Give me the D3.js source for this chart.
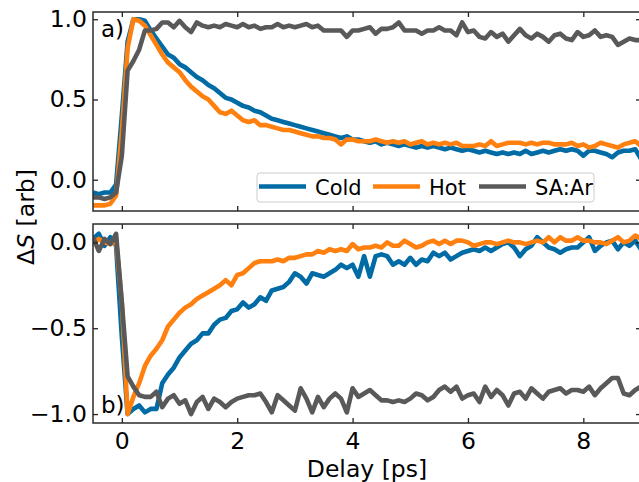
<!DOCTYPE html>
<html>
<head>
<meta charset="utf-8">
<script src="https://cdn.jsdelivr.net/npm/d3@7"></script>
<style>
body { margin: 0; background: #fff; }
svg text { font-family: "DejaVu Sans", sans-serif; fill: #000; }
</style>
</head>
<body>
<svg width="639" height="482"></svg>
<script>
// delay axis (ps)
var delays = [-0.5,-0.4,-0.3,-0.2,-0.1,0.0,0.1,0.2,0.3,0.4,
  0.5,0.6,0.7,0.8,0.9,1.0,1.1,1.2,1.3,1.4,
  1.5,1.6,1.7,1.8,1.9,2.0,2.1,2.2,2.3,2.4,
  2.5,2.6,2.7,2.8,2.9,3.0,3.1,3.2,3.3,3.4,
  3.5,3.6,3.7,3.8,3.9,4.0,4.1,4.2,4.3,4.4,
  4.5,4.6,4.7,4.8,4.9,5.0,5.1,5.2,5.3,5.4,
  5.5,5.6,5.7,5.8,5.9,6.0,6.1,6.2,6.3,6.4,
  6.5,6.6,6.7,6.8,6.9,7.0,7.1,7.2,7.3,7.4,
  7.5,7.6,7.7,7.8,7.9,8.0,8.1,8.2,8.3,8.4,
  8.5,8.6,8.7,8.8,8.9,9.0];

var seriesNames = ["Cold", "Hot", "SA:Ar"];
var colors = ["#006BA4", "#FF800E", "#595959"];

// panel a)
var topCold = [-0.08,-0.09,-0.08,-0.08,-0.03,0.40,0.86,1.00,1.00,0.99,
  0.93,0.88,0.83,0.78,0.76,0.72,0.70,0.67,0.64,0.62,
  0.59,0.57,0.54,0.51,0.50,0.48,0.46,0.45,0.43,0.42,
  0.40,0.38,0.37,0.36,0.35,0.34,0.33,0.32,0.31,0.30,
  0.29,0.28,0.27,0.26,0.27,0.25,0.25,0.24,0.23,0.24,
  0.22,0.23,0.22,0.21,0.22,0.21,0.20,0.21,0.20,0.21,
  0.20,0.19,0.20,0.19,0.18,0.19,0.18,0.17,0.18,0.17,
  0.16,0.17,0.16,0.17,0.16,0.18,0.16,0.17,0.18,0.17,
  0.18,0.19,0.18,0.19,0.18,0.15,0.18,0.18,0.17,0.16,
  0.14,0.17,0.18,0.18,0.19,0.13];
var topHot = [-0.16,-0.16,-0.16,-0.15,-0.10,0.30,0.82,1.00,0.99,0.96,
  0.90,0.84,0.78,0.73,0.70,0.67,0.62,0.58,0.55,0.52,
  0.50,0.46,0.42,0.41,0.43,0.40,0.37,0.36,0.37,0.34,
  0.34,0.33,0.32,0.31,0.31,0.30,0.29,0.28,0.27,0.27,
  0.26,0.26,0.25,0.22,0.25,0.25,0.24,0.24,0.24,0.25,
  0.24,0.23,0.24,0.23,0.24,0.22,0.23,0.24,0.22,0.23,
  0.22,0.23,0.22,0.23,0.21,0.21,0.21,0.22,0.21,0.24,
  0.21,0.22,0.23,0.23,0.23,0.22,0.23,0.22,0.23,0.23,
  0.22,0.22,0.22,0.23,0.21,0.22,0.20,0.21,0.23,0.22,
  0.21,0.20,0.22,0.23,0.24,0.21];
var topAr = [-0.11,-0.11,-0.12,-0.11,-0.08,0.15,0.68,0.74,0.81,0.93,
  0.93,0.94,0.98,0.98,0.95,0.99,0.95,0.92,0.98,0.96,
  0.95,0.96,0.95,0.97,0.96,0.95,0.97,0.95,0.96,0.94,
  0.95,0.95,0.97,0.95,0.96,0.95,0.96,0.97,0.95,0.96,
  0.93,0.93,0.93,0.93,0.89,0.93,0.93,0.94,0.95,0.91,
  0.94,0.94,0.95,0.98,0.93,0.93,0.93,0.91,0.93,0.93,
  0.95,0.93,0.93,0.90,0.98,0.92,0.93,0.89,0.88,0.92,
  0.89,0.91,0.86,0.90,0.94,0.90,0.88,0.91,0.89,0.86,
  0.90,0.91,0.88,0.87,0.92,0.89,0.90,0.93,0.89,0.90,
  0.89,0.84,0.86,0.88,0.87,0.87];

// panel b)
var botCold = [0.02,0.05,-0.02,0.03,-0.02,-0.55,-1.00,-0.97,-0.95,-0.99,
  -0.97,-0.97,-0.82,-0.77,-0.73,-0.67,-0.63,-0.59,-0.57,-0.53,
  -0.53,-0.48,-0.45,-0.44,-0.40,-0.39,-0.35,-0.38,-0.36,-0.32,
  -0.34,-0.28,-0.27,-0.26,-0.23,-0.18,-0.20,-0.24,-0.18,-0.19,
  -0.20,-0.18,-0.16,-0.13,-0.15,-0.13,-0.20,-0.08,-0.20,-0.08,
  -0.07,-0.08,-0.13,-0.11,-0.13,-0.09,-0.13,-0.10,-0.11,-0.06,
  -0.08,-0.06,-0.10,-0.08,-0.06,-0.05,-0.04,-0.05,-0.03,-0.05,
  -0.03,-0.01,0.00,-0.03,-0.08,-0.04,-0.02,0.03,0.00,-0.03,
  -0.04,-0.06,-0.04,-0.03,-0.03,0.00,0.03,-0.05,-0.02,0.00,
  0.01,-0.04,0.00,-0.02,0.01,-0.04];
var botHot = [-0.01,0.02,0.00,-0.01,0.01,-0.35,-1.00,-0.90,-0.82,-0.72,
  -0.66,-0.62,-0.57,-0.49,-0.45,-0.41,-0.38,-0.36,-0.33,-0.31,
  -0.29,-0.27,-0.25,-0.22,-0.25,-0.19,-0.18,-0.15,-0.12,-0.11,
  -0.11,-0.11,-0.10,-0.11,-0.09,-0.09,-0.08,-0.07,-0.07,-0.05,
  -0.06,-0.04,-0.05,-0.04,-0.05,-0.01,-0.04,-0.03,-0.03,-0.02,
  -0.03,0.00,-0.02,-0.02,0.01,-0.01,-0.03,-0.02,0.00,0.01,
  -0.01,0.01,-0.01,0.01,0.01,0.00,-0.02,-0.01,0.00,0.00,
  -0.01,0.00,0.01,0.00,0.00,-0.01,0.00,0.01,0.00,0.03,
  0.00,0.03,0.01,0.01,0.03,0.01,0.01,0.00,0.00,-0.01,
  0.01,0.03,0.00,0.01,0.04,0.02];
var botAr = [0.03,-0.05,0.02,-0.01,0.05,-0.35,-0.78,-0.84,-0.89,-0.90,
  -0.90,-0.87,-0.96,-0.91,-0.89,-0.94,-0.92,-1.00,-0.93,-0.90,
  -0.97,-0.91,-0.93,-0.96,-0.93,-0.91,-0.90,-0.89,-0.89,-0.88,
  -0.93,-0.99,-0.89,-0.92,-0.95,-0.98,-0.85,-0.91,-0.99,-0.90,
  -0.96,-0.91,-0.88,-0.91,-0.99,-0.85,-0.90,-0.88,-0.86,-0.89,
  -0.92,-0.92,-0.93,-0.92,-0.93,-0.91,-0.88,-0.89,-0.92,-0.90,
  -0.86,-0.84,-0.87,-0.84,-0.91,-0.89,-0.88,-0.93,-0.84,-0.90,
  -0.86,-0.89,-0.95,-0.88,-0.87,-0.91,-0.85,-0.88,-0.91,-0.87,
  -0.86,-0.85,-0.88,-0.86,-0.86,-0.87,-0.84,-0.89,-0.85,-0.82,
  -0.79,-0.79,-0.88,-0.89,-0.86,-0.84];

var xTicks = [0, 2, 4, 6, 8];
var topTicks = [0.0, 0.5, 1.0];
var botTicks = [-1.0, -0.5, 0.0];

var svg = d3.select("svg");
var x = d3.scaleLinear().domain([-0.5, 9]).range([93, 641]);

var panels = [
  {id: "a", top: 12, bottom: 211, domain: [-0.195, 1.045], ticks: topTicks,
   data: [topCold, topHot, topAr], label: "a)", labelY: 37, showX: false},
  {id: "b", top: 224, bottom: 423, domain: [-1.052, 0.107], ticks: botTicks,
   data: [botCold, botHot, botAr], label: "b)", labelY: 413, showX: true}
];

panels.forEach(function(p) {
  var y = d3.scaleLinear().domain(p.domain).range([p.bottom, p.top]);

  svg.append("clipPath").attr("id", "clip-" + p.id)
    .append("rect")
    .attr("x", x.range()[0]).attr("y", p.top)
    .attr("width", x.range()[1] - x.range()[0]).attr("height", p.bottom - p.top);

  var line = d3.line()
    .x(function(d, i) { return x(delays[i]); })
    .y(function(d) { return y(d); });

  svg.append("g").attr("clip-path", "url(#clip-" + p.id + ")")
    .selectAll("path")
    .data(p.data)
    .enter().append("path")
    .attr("d", line)
    .attr("fill", "none")
    .attr("stroke", function(d, i) { return colors[i]; })
    .attr("stroke-width", 4.6)
    .attr("stroke-linejoin", "round");

  // axes, ticks pointing inward
  var fmt = d3.format(".1f");
  var gl = svg.append("g").attr("transform", "translate(" + x.range()[0] + ",0)")
    .call(d3.axisLeft(y).tickValues(p.ticks).tickFormat(fmt).tickSize(-5).tickPadding(6));
  var gr = svg.append("g").attr("transform", "translate(" + x.range()[1] + ",0)")
    .call(d3.axisRight(y).tickValues(p.ticks).tickFormat("").tickSize(-5));
  var gt = svg.append("g").attr("transform", "translate(0," + p.top + ")")
    .call(d3.axisTop(x).tickValues(xTicks).tickFormat("").tickSize(-5));
  var gb = svg.append("g").attr("transform", "translate(0," + p.bottom + ")")
    .call(d3.axisBottom(x).tickValues(xTicks).tickFormat(p.showX ? d3.format("d") : "").tickSize(-5).tickPadding(9));

  [gl, gr, gt, gb].forEach(function(g) {
    g.select(".domain").remove();
    g.selectAll(".tick line").attr("stroke", "#222").attr("stroke-width", 1.3);
    g.selectAll(".tick text").attr("font-size", 23.5).attr("fill", "#000")
      .style("font-family", "DejaVu Sans");
  });

  svg.append("rect")
    .attr("x", x.range()[0]).attr("y", p.top)
    .attr("width", x.range()[1] - x.range()[0]).attr("height", p.bottom - p.top)
    .attr("fill", "none").attr("stroke", "#2b2b2b").attr("stroke-width", 1.5);

  svg.append("text")
    .attr("x", 101).attr("y", p.labelY)
    .attr("font-size", 23)
    .text(p.label);
});

// legend in panel a)
var legend = svg.append("g").attr("transform", "translate(257,173)");
legend.append("rect")
  .attr("width", 337).attr("height", 29).attr("rx", 3)
  .attr("fill", "#fff").attr("fill-opacity", 0.8)
  .attr("stroke", "#ccc").attr("stroke-width", 1);
var legendX = [2, 116, 222];
var item = legend.selectAll(".item")
  .data(seriesNames)
  .enter().append("g")
  .attr("class", "item")
  .attr("transform", function(d, i) { return "translate(" + legendX[i] + ",0)"; });
item.append("line")
  .attr("x1", 0).attr("x2", 47).attr("y1", 13.5).attr("y2", 13.5)
  .attr("stroke", function(d, i) { return colors[i]; })
  .attr("stroke-width", 4.6);
item.append("text")
  .attr("x", 56).attr("y", 21.5)
  .attr("font-size", 21)
  .text(function(d) { return d; });

// axis titles
svg.append("text")
  .attr("x", 367).attr("y", 477)
  .attr("text-anchor", "middle")
  .attr("font-size", 23.5)
  .text("Delay [ps]");

var ylab = svg.append("text")
  .attr("transform", "translate(34,217) rotate(-90)")
  .attr("text-anchor", "middle")
  .attr("font-size", 23.5);
ylab.append("tspan").text("\u0394");
ylab.append("tspan").attr("font-style", "italic").text("S");
ylab.append("tspan").text(" [arb]");
</script>
</body>
</html>
